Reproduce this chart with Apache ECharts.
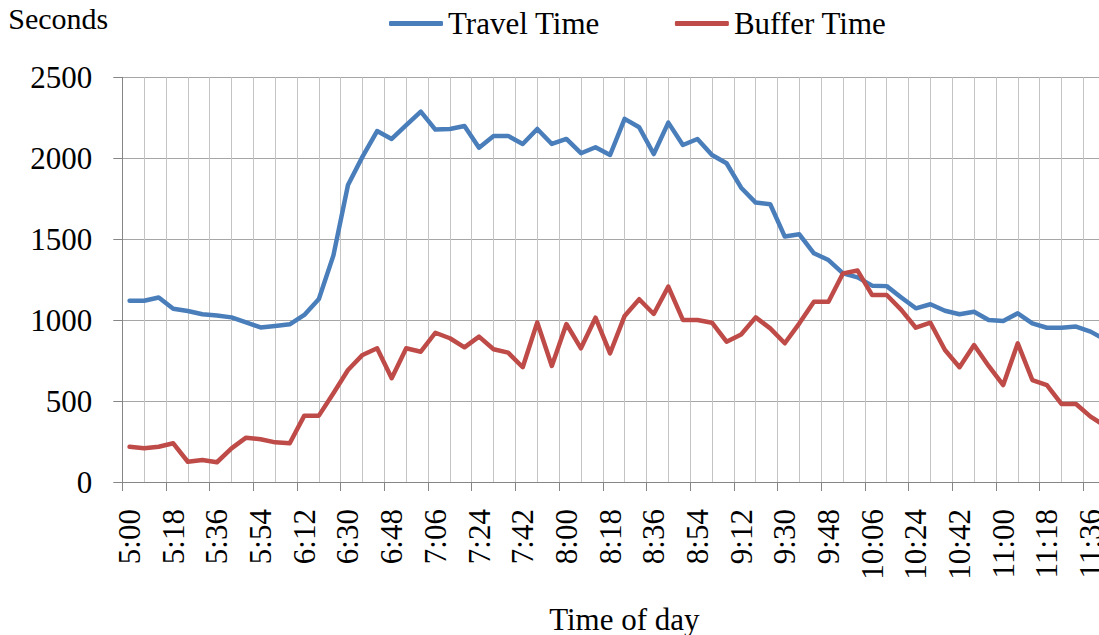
<!DOCTYPE html>
<html>
<head>
<meta charset="utf-8">
<script src="https://cdn.jsdelivr.net/npm/echarts@6/dist/echarts.min.js"></script>
<style>
html,body{margin:0;padding:0;background:#fff;overflow:hidden;}
#chart{width:1099px;height:635px;}
</style>
</head>
<body>
<div id="chart"></div>
<script>
var times = ['5:00','5:06','5:12','5:18','5:24','5:30','5:36','5:42','5:48','5:54',
  '6:00','6:06','6:12','6:18','6:24','6:30','6:36','6:42','6:48','6:54',
  '7:00','7:06','7:12','7:18','7:24','7:30','7:36','7:42','7:48','7:54',
  '8:00','8:06','8:12','8:18','8:24','8:30','8:36','8:42','8:48','8:54',
  '9:00','9:06','9:12','9:18','9:24','9:30','9:36','9:42','9:48','9:54',
  '10:00','10:06','10:12','10:18','10:24','10:30','10:36','10:42','10:48','10:54',
  '11:00','11:06','11:12','11:18','11:24','11:30','11:36','11:42'];

var travelTime = [1120,1120,1140,1070,1056,1036,1028,1017,986,955,
  964,974,1032,1130,1400,1835,2010,2168,2119,2205,
  2288,2177,2181,2199,2065,2138,2138,2088,2181,2088,
  2119,2031,2068,2020,2243,2191,2026,2220,2082,2119,
  2020,1969,1818,1726,1716,1516,1530,1413,1371,1289,
  1264,1213,1210,1140,1073,1098,1058,1036,1052,1001,
  994,1042,980,953,953,960,929,880];

var bufferTime = [218,208,218,239,125,136,122,208,274,264,
  245,239,410,410,548,692,785,826,641,826,
  805,922,888,832,898,820,799,709,986,717,
  976,826,1015,795,1026,1129,1038,1207,1001,1001,
  984,867,911,1017,949,857,980,1114,1114,1289,
  1306,1155,1155,1063,953,984,815,709,846,717,
  599,857,630,599,482,482,404,346];

var seriesNames = ['Travel Time','Buffer Time'];
var yTicks = {min:0, max:2500, step:500};

var FONT = '"Liberation Serif","Times New Roman",serif';
var chart = echarts.init(document.getElementById('chart'), null, {renderer:'svg'});
chart.setOption({
  animation:false,
  backgroundColor:'#ffffff',
  legend:{
    data:seriesNames,
    icon:'roundRect',
    left:389, top:8, padding:0,
    itemWidth:54, itemHeight:5, itemGap:75,
    textStyle:{fontFamily:FONT, fontSize:31, color:'#000'}
  },
  grid:{left:122.3, top:77.3, bottom:153, right:-13.4, containLabel:false, outerBoundsMode:'none'},
  xAxis:[{
    type:'category',
    data:times,
    boundaryGap:true,
    name:'Time of day',
    nameLocation:'middle',
    nameGap:137,
    nameTextStyle:{fontFamily:FONT, fontSize:31, color:'#000', verticalAlign:'middle', padding:[0,0,0,14]},
    axisLine:{lineStyle:{color:'#868686', width:1}},
    axisTick:{show:true, interval:2, length:9, lineStyle:{color:'#868686'}},
    axisLabel:{interval:2, rotate:90, margin:27, fontFamily:FONT, fontSize:31, color:'#000'},
    splitLine:{show:false}
  },{
    type:'value',
    position:'top',
    min:0, max:times.length, interval:1.5,
    axisLine:{show:false}, axisTick:{show:false}, axisLabel:{show:false},
    splitLine:{show:true, lineStyle:{color:'#C4C4C4', width:1}}
  }],
  yAxis:{
    type:'value',
    min:yTicks.min, max:yTicks.max, interval:yTicks.step,
    name:'Seconds',
    nameLocation:'end',
    nameGap:59,
    nameTextStyle:{fontFamily:FONT, fontSize:30, color:'#000', align:'right', verticalAlign:'middle', padding:[0,14,0,0]},
    axisLine:{show:true, lineStyle:{color:'#868686', width:1}},
    axisTick:{show:true, length:9, lineStyle:{color:'#868686'}},
    axisLabel:{margin:30, fontFamily:FONT, fontSize:31, color:'#000', formatter:function(v){return String(v);}},
    splitLine:{show:true, lineStyle:{color:'#A6A6A6', width:1}}
  },
  series:[{
    name:seriesNames[0], type:'line', data:travelTime, xAxisIndex:0,
    symbol:'none', showSymbol:false,
    lineStyle:{color:'#4A7EBB', width:4.5, cap:'round', join:'round'},
    itemStyle:{color:'#4A7EBB'}
  },{
    name:seriesNames[1], type:'line', data:bufferTime, xAxisIndex:0,
    symbol:'none', showSymbol:false,
    lineStyle:{color:'#BE4B48', width:4.5, cap:'round', join:'round'},
    itemStyle:{color:'#BE4B48'}
  }]
});
</script>
</body>
</html>
